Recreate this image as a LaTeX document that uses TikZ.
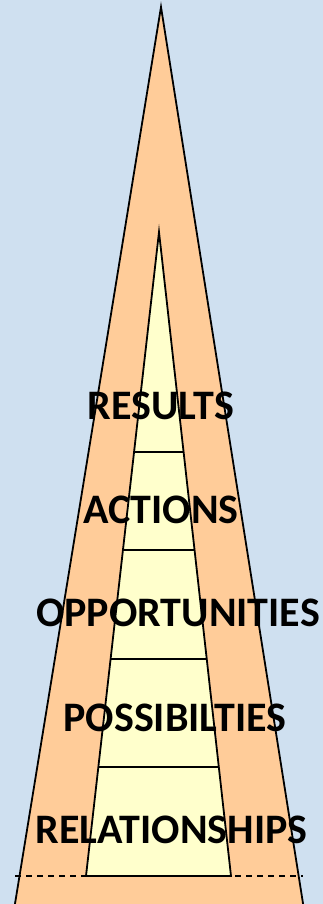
\documentclass[tikz,border=0pt]{standalone}
\usepackage{fontspec}
\setmainfont{Carlito}
\usetikzlibrary{calc}
\definecolor{bgblue}{HTML}{CFE0F0}
\definecolor{peach}{HTML}{FFCC99}
\definecolor{paleyellow}{HTML}{FFFFCC}
\tikzset{
  shapeline/.style={draw=black, line width=1.8pt, line join=miter},
  divider/.style={draw=black, line width=1.2pt},
  levellabel/.style={font=\fontsize{42}{42}\selectfont\bfseries, inner sep=0pt, anchor=center},
  baseline/.style={draw=black, line width=1.2pt, dash pattern=on 6pt off 5pt}
}
\begin{document}
\begin{tikzpicture}[x=1pt,y=-1pt]
\useasboundingbox (0,0) rectangle (323,904);
\clip (0,0) rectangle (323,904);
\fill[bgblue] (0,0) rectangle (323,904);
% outer triangle
\coordinate (oa) at (161,7);
\coordinate (obl) at (13,916);
\coordinate (obr) at (305,916);
\filldraw[shapeline, fill=peach] (oa) -- (obl) -- (obr) -- cycle;
% inner trapezoid
\coordinate (ia) at (159,232);
\coordinate (ibl) at (86,876);
\coordinate (ibr) at (231,876);
\filldraw[shapeline, fill=paleyellow] (ia) -- (ibl) -- (ibr) -- cycle;
% dividers
\foreach \t [count=\i] in {0.3416,0.4938,0.6630,0.8307}{
  \coordinate (dl\i) at ($(ia)!\t!(ibl)$);
  \coordinate (dr\i) at ($(ia)!\t!(ibr)$);
  \draw[divider] (dl\i) -- (dr\i);
}
% dashed base line
\coordinate (dashl) at (15,876);
\coordinate (dashr) at (303,876);
\draw[baseline] (dashl) -- (dashr);
% labels
\node[levellabel] (results) at (161,405.5) {RESULTS};
\node[levellabel] (actions) at (161,509.5) {ACTIONS};
\node[levellabel] (opps) at (178,613) {OPPORTUNITIES};
\node[levellabel] (poss) at (175,718) {POSSIBILTIES};
\node[levellabel] (rels) at (171.5,829.5) {RELATIONSHIPS};
\end{tikzpicture}
\end{document}
